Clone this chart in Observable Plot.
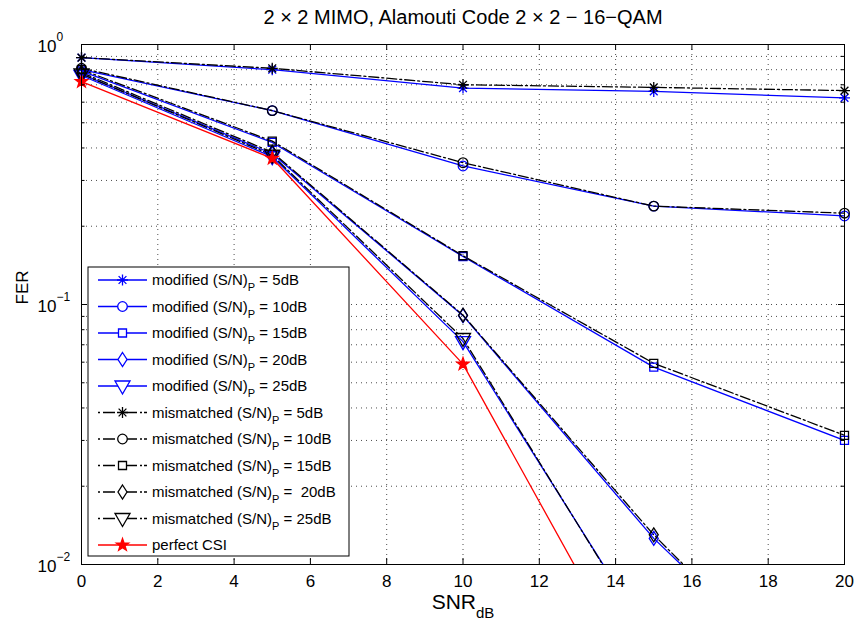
<!DOCTYPE html>
<html><head><meta charset="utf-8">
<script src="https://cdn.jsdelivr.net/npm/d3@7"></script>
<script src="https://cdn.jsdelivr.net/npm/@observablehq/plot@0.6"></script>
<style>body{margin:0;background:#fff} svg{font-family:"Liberation Sans",Arial,sans-serif}</style>
</head><body><div id="chart"></div>
<script>
// ---- data ----
const snr = [0, 5, 10, 15, 20];
const mod5  = [0.89, 0.80, 0.68, 0.66, 0.623];
const mod10 = [0.80, 0.557, 0.341, 0.239, 0.219];
const mod15 = [0.79, 0.42, 0.153, 0.0574, 0.0300];
const mod20 = [0.77, 0.38, 0.0906, 0.0126, 0.0025];
const mod25 = [0.76, 0.37, 0.072, 0.0049];
const mis5  = [0.89, 0.81, 0.70, 0.684, 0.665];
const mis10 = [0.81, 0.557, 0.351, 0.239, 0.2245];
const mis15 = [0.80, 0.425, 0.154, 0.0594, 0.0314];
const mis20 = [0.78, 0.385, 0.091, 0.0130, 0.0024];
const mis25 = [0.77, 0.375, 0.074, 0.0048];
const perfect = [0.72, 0.365, 0.059, 0.0028];

const seriesLabels = [
  ["modified (S/N)", "P", " = 5dB"],
  ["modified (S/N)", "P", " = 10dB"],
  ["modified (S/N)", "P", " = 15dB"],
  ["modified (S/N)", "P", " = 20dB"],
  ["modified (S/N)", "P", " = 25dB"],
  ["mismatched (S/N)", "P", " = 5dB"],
  ["mismatched (S/N)", "P", " = 10dB"],
  ["mismatched (S/N)", "P", " = 15dB"],
  ["mismatched (S/N)", "P", " =  20dB"],
  ["mismatched (S/N)", "P", " = 25dB"],
  ["perfect CSI", "", ""]
];
const seriesValues = [mod5, mod10, mod15, mod20, mod25, mis5, mis10, mis15, mis20, mis25, perfect];

const xTicks = [0, 2, 4, 6, 8, 10, 12, 14, 16, 18, 20];
const yMajor = [1, 0.1, 0.01];
const yExp = ["0", "\u22121", "\u22122"];
const yMinor = [0.02,0.03,0.04,0.05,0.06,0.07,0.08,0.09,0.2,0.3,0.4,0.5,0.6,0.7,0.8,0.9];
const title = "2 \u00d7 2 MIMO, Alamouti Code 2 \u00d7 2 \u2212 16\u2212QAM";

// ---- symbols ----
const asterisk = {draw(c){const r=5.5;for(let k=0;k<4;k++){const a=k*Math.PI/4;c.moveTo(r*Math.cos(a),r*Math.sin(a));c.lineTo(-r*Math.cos(a),-r*Math.sin(a));}}};
const circle = {draw(c){const r=4.8;c.moveTo(r,0);c.arc(0,0,r,0,2*Math.PI);c.closePath();}};
const square = {draw(c){const h=4;c.moveTo(-h,-h);c.lineTo(h,-h);c.lineTo(h,h);c.lineTo(-h,h);c.closePath();}};
const diamond = {draw(c){const w=4.5,h=7;c.moveTo(0,-h);c.lineTo(w,0);c.lineTo(0,h);c.lineTo(-w,0);c.closePath();}};
const triDown = {draw(c){const w=7.5;c.moveTo(-w,-5);c.lineTo(w,-5);c.lineTo(0,8);c.closePath();}};
const pentagram = {draw(c){const R=6.5,r=2.6;for(let k=0;k<10;k++){const rr=k%2?r:R;const a=-Math.PI/2+k*Math.PI/5;const x=rr*Math.cos(a),y=rr*Math.sin(a);k?c.lineTo(x,y):c.moveTo(x,y);}c.closePath();}};

const styles = [
  {color:"#0000ff", dash:null, sym:asterisk, fill:"none"},
  {color:"#0000ff", dash:null, sym:circle, fill:"none"},
  {color:"#0000ff", dash:null, sym:square, fill:"none"},
  {color:"#0000ff", dash:null, sym:diamond, fill:"none"},
  {color:"#0000ff", dash:null, sym:triDown, fill:"none"},
  {color:"#000000", dash:"10,3,2,3", sym:asterisk, fill:"none"},
  {color:"#000000", dash:"10,3,2,3", sym:circle, fill:"none"},
  {color:"#000000", dash:"10,3,2,3", sym:square, fill:"none"},
  {color:"#000000", dash:"10,3,2,3", sym:diamond, fill:"none"},
  {color:"#000000", dash:"10,3,2,3", sym:triDown, fill:"none"},
  {color:"#ff0000", dash:null, sym:pentagram, fill:"#ff0000"}
];

const W = 855, H = 621, mL = 81, mR = 11, mT = 44, mB = 57;
const pw = W - mL - mR, ph = H - mT - mB;

const marks = [
  Plot.ruleX(xTicks, {x: d => d, stroke: "#000", strokeOpacity: 0.7, strokeDasharray: "1,4", strokeWidth: 1}),
  Plot.ruleY(yMinor, {y: d => d, stroke: "#000", strokeOpacity: 0.7, strokeDasharray: "1,4", strokeWidth: 1}),
  Plot.ruleY(yMajor, {y: d => d, stroke: "#000", strokeOpacity: 0.7, strokeDasharray: "1,4", strokeWidth: 1})
];
seriesValues.forEach((vals, i) => {
  const rows = vals.map((v, j) => ({x: snr[j], y: v}));
  const s = styles[i];
  marks.push(Plot.line(rows, {x: "x", y: "y", stroke: s.color, strokeWidth: 1.3, strokeDasharray: s.dash, clip: true}));
});
seriesValues.forEach((vals, i) => {
  const rows = vals.map((v, j) => ({x: snr[j], y: v})).filter(d => d.y >= 0.01);
  const s = styles[i];
  marks.push(Plot.dot(rows, {x: "x", y: "y", r: 1, symbol: s.sym, stroke: s.color, fill: s.fill, strokeWidth: 1.3}));
});
marks.push(
  Plot.frame({stroke: "#000", strokeWidth: 1}),
  // inner ticks
  Plot.ruleX(xTicks, {x: d => d, stroke: "#000", insetTop: ph - 6}),
  Plot.ruleX(xTicks, {x: d => d, stroke: "#000", insetBottom: ph - 6}),
  Plot.ruleY(yMajor, {y: d => d, stroke: "#000", insetRight: pw - 6}),
  Plot.ruleY(yMajor, {y: d => d, stroke: "#000", insetLeft: pw - 6}),
  Plot.ruleY(yMinor, {y: d => d, stroke: "#000", insetRight: pw - 3.5}),
  Plot.ruleY(yMinor, {y: d => d, stroke: "#000", insetLeft: pw - 3.5}),
  // tick labels
  Plot.text(xTicks, {x: d => d, frameAnchor: "bottom", dy: 17, lineAnchor: "middle", text: d => String(d), fontSize: 17, fill: "#000"}),
  Plot.text(yMajor, {y: d => d, frameAnchor: "left", dx: -44, dy: 2, textAnchor: "start", lineAnchor: "middle", text: () => "10", fontSize: 17, fill: "#000"}),
  Plot.text(yMajor, {y: d => d, frameAnchor: "left", dx: -25, dy: -7, textAnchor: "start", lineAnchor: "middle", text: (d, i) => yExp[i], fontSize: 12, fill: "#000"}),
  // axis titles
  Plot.text(["FER"], {frameAnchor: "left", dx: -59, rotate: -90, lineAnchor: "middle", fontSize: 17, fill: "#000"}),
  Plot.text(["SNR"], {frameAnchor: "bottom", dx: 13, dy: 38, textAnchor: "end", lineAnchor: "middle", fontSize: 21, fill: "#000"}),
  Plot.text(["dB"], {frameAnchor: "bottom", dx: 13, dy: 49, textAnchor: "start", lineAnchor: "middle", fontSize: 15, fill: "#000"}),
  Plot.text([title], {frameAnchor: "top", dy: -27, lineAnchor: "middle", fontSize: 20, fill: "#000"})
);

const chart = Plot.plot({
  width: W, height: H,
  marginLeft: mL, marginRight: mR, marginTop: mT, marginBottom: mB,
  x: {domain: [0, 20], axis: null},
  y: {type: "log", domain: [0.01, 1], axis: null},
  style: {fontFamily: "'Liberation Sans', Arial, sans-serif", background: "#fff", overflow: "visible"},
  marks
});
document.getElementById("chart").appendChild(chart);

// ---- legend ----
const svg = d3.select(chart);
const lg = svg.append("g").attr("text-anchor", "start");
const bx = 88, by = 267, bw = 261, bh = 289, row0 = 280, step = 26.5;
lg.append("rect").attr("x", bx).attr("y", by).attr("width", bw).attr("height", bh)
  .attr("fill", "#fff").attr("stroke", "#000").attr("stroke-width", 1);
seriesLabels.forEach((lab, i) => {
  const s = styles[i], y = row0 + i * step;
  lg.append("line").attr("x1", 98).attr("x2", 147).attr("y1", y).attr("y2", y)
    .attr("stroke", s.color).attr("stroke-width", 1.3).attr("stroke-dasharray", s.dash ? "2,3,12,10,12,3,2" : null);
  lg.append("path").attr("d", d3.symbol(s.sym, 1)()).attr("transform", `translate(122.5,${y})`)
    .attr("stroke", s.color).attr("fill", s.sym === styles[10].sym ? s.fill : "#fff").attr("stroke-width", 1.3);
  const t = lg.append("text").attr("x", 152).attr("y", y + 5).attr("font-size", 15).attr("fill", "#000")
    .attr("text-anchor", "start").style("white-space", "pre");
  t.append("tspan").text(lab[0]);
  if (lab[1]) {
    t.append("tspan").attr("dy", 6).attr("font-size", 11).text(lab[1]);
    t.append("tspan").attr("dy", -6).text(lab[2]);
  }
});
</script></body></html>
